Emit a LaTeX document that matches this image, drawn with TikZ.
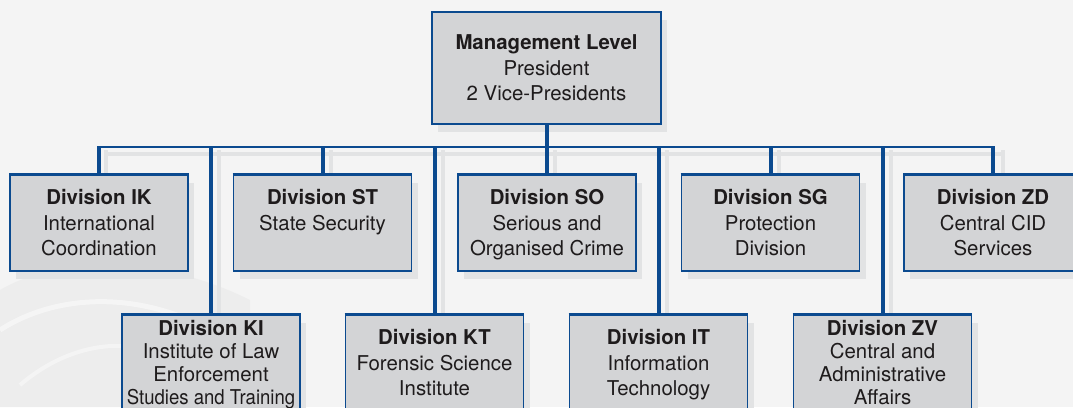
\documentclass[tikz,border=0pt]{standalone}
\usepackage{fontspec}
\setmainfont{TeX Gyre Heros}
\usetikzlibrary{shadows}
\definecolor{bg}{HTML}{F4F4F4}
\definecolor{bgdark}{HTML}{EBEBEB}
\definecolor{lineblue}{HTML}{0B4A8F}
\definecolor{boxgray}{HTML}{D3D4D6}
\definecolor{shadowgray}{HTML}{E2E3E4}
\definecolor{textgray}{HTML}{1E1B1C}
\tikzset{
  orgbox/.style={draw=lineblue, line width=1.8pt, fill=boxgray,
    minimum width=178pt, minimum height=96pt, inner sep=0pt,
    drop shadow={shadow xshift=6pt, shadow yshift=-8pt, fill=shadowgray, opacity=1}},
  boxtext/.style={inner sep=0pt, align=center, text=textgray,
    font=\fontsize{20.4}{25.5}\selectfont},
  tighttext/.style={boxtext, font=\fontsize{20.4}{23}\selectfont},
  conn/.style={draw=lineblue, line width=4pt},
  busline/.style={draw=lineblue, line width=2.6pt},
  connshadow/.style={draw=shadowgray, line width=4.5pt},
}
\begin{document}
\begin{tikzpicture}[x=1pt,y=-1pt]
\clip (0,0) rectangle (1073,407);
\fill[bg] (0,0) rectangle (1073,407);
% faint background swooshes
\fill[bgdark, opacity=0.7] (0,290) .. controls (60,255) and (160,255) .. (250,300) -- (250,407) -- (0,407) -- cycle;
\draw[white, line width=5pt, opacity=0.45] (0,330) .. controls (70,285) and (170,295) .. (240,350);
\draw[white, line width=4pt, opacity=0.4] (20,385) .. controls (90,325) and (180,335) .. (230,407);

\coordinate (busL) at (98,147);
\coordinate (busR) at (995,147);

% line shadows
\draw[connshadow] ([shift={(7,7)}]busL) -- ([shift={(7,7)}]busR);
\foreach \x/\yy in {98/175,211/315,323/175,435/315,547/175,659/315,771/175,883/315,995/175}
  \draw[connshadow] (\x+8,150) -- (\x+8,\yy);

% boxes
\node[orgbox, minimum width=229pt, minimum height=112pt] (mgmt) at (546.5,68) {};
\node[orgbox] (ik) at (99,223) {};
\node[orgbox] (st) at (322.5,223) {};
\node[orgbox] (so) at (547,223) {};
\node[orgbox] (sg) at (770.5,223) {};
\node[orgbox] (zd) at (993,223) {};
\node[orgbox] (ki) at (211,363) {};
\node[orgbox] (kt) at (434.5,363) {};
\node[orgbox] (it) at (658.5,363) {};
\node[orgbox] (zv) at (882.5,363) {};

% texts
\node[boxtext] (mgmtt) at ([yshift=-2.1pt]mgmt.center)
  {\strut\textbf{Management Level}\\\strut President\\\strut 2 Vice-Presidents};
\node[boxtext] (ikt) at ([yshift=-2.1pt]ik.center) {\strut\textbf{Division IK}\\\strut International\\\strut Coordination};
\node[boxtext] (stt) at ([yshift=-2.1pt]st.center) {\strut\textbf{Division ST}\\\strut State Security\\\strut};
\node[boxtext] (sot) at ([yshift=-2.1pt]so.center) {\strut\textbf{Division SO}\\\strut Serious and\\\strut Organised Crime};
\node[boxtext] (sgt) at ([yshift=-2.1pt]sg.center) {\strut\textbf{Division SG}\\\strut Protection\\\strut Division};
\node[boxtext] (zdt) at ([yshift=-2.1pt]zd.center) {\strut\textbf{Division ZD}\\\strut Central CID\\\strut Services};
\node[tighttext] (kit) at ([yshift=-2.4pt]ki.center) {\strut\textbf{Division KI}\\\strut Institute of Law\\\strut Enforcement\\\strut\scalebox{0.91}[1]{Studies and Training}};
\node[boxtext] (ktt) at ([yshift=-2.1pt]kt.center) {\strut\textbf{Division KT}\\\strut Forensic Science\\\strut Institute};
\node[boxtext] (itt) at ([yshift=-2.1pt]it.center) {\strut\textbf{Division IT}\\\strut Information\\\strut Technology};
\node[tighttext] (zvt) at ([yshift=-2.4pt]zv.center) {\strut\textbf{Division ZV}\\\strut Central and\\\strut Administrative\\\strut Affairs};

% connectors
\draw[busline] (busL) -- (busR);
\draw[conn] (mgmt.south) -- (mgmt.south |- busL);
\foreach \n in {ik,st,so,sg,zd,ki,kt,it,zv}
  \draw[conn] (\n.north) -- ([yshift=1.3pt]\n.north |- busL);

% box top edges over connector ends
\foreach \n in {ik,st,so,sg,zd,ki,kt,it,zv}
  \draw[lineblue, line width=1.8pt] (\n.north west) -- (\n.north east);
\end{tikzpicture}
\end{document}
